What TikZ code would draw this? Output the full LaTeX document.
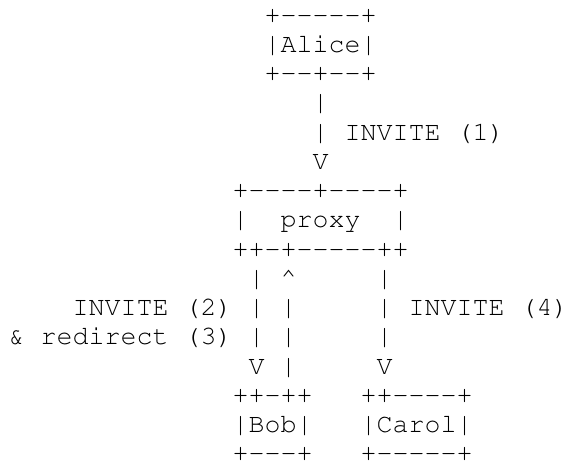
\documentclass[tikz,border=0pt]{standalone}
\usepackage[T1]{fontenc}
\usepackage{tikz}
\tikzset{ascii/.style={anchor=base west,inner sep=0pt,
    font=\fontfamily{pcr}\fontsize{26.67pt}{29.25pt}\selectfont}}
% a dash that no ligature swallows
\newcommand{\dsh}{-{}}
\begin{document}
\begin{tikzpicture}[x=16pt,y=-29.25pt,every node/.style={ascii}]
  \useasboundingbox (-8.5pt,23pt) rectangle (558.5pt,-441pt);
  {
    % Alice
    \node (alicetop) at (16,0) {+\dsh\dsh\dsh\dsh\dsh+};%
    \node (alice) at (16,1) {|Alice|};%
    \node (alicebot) at (16,2) {+\dsh\dsh+\dsh\dsh+};%
    % INVITE (1)
    \node (a1) at (19,3) {|};%
    \node (a2) at (19,4) {|};%
    \node (inv1) at (21,4) {INVITE (1)};%
    \node (a3) at (19,5) {V};%
  }
  {
    % proxy
    \node (proxytop) at (14,6) {+\dsh\dsh\dsh\dsh+\dsh\dsh\dsh\dsh+};%
    \node (pl) at (14,7) {|};%
    \node (proxy) at (17,7) {proxy};%
    \node (pr) at (24,7) {|};%
    \node (proxybot) at (14,8) {++\dsh+\dsh\dsh\dsh\dsh\dsh++};%
  }
  {
    % INVITE (2) & redirect (3), INVITE (4)
    \node (b1) at (15,9) {|};%
    \node (r1) at (17,9) {\textasciicircum};%
    \node (c1) at (23,9) {|};%
    \node (inv2) at (4,10) {INVITE (2)};%
    \node (b2) at (15,10) {|};%
    \node (r2) at (17,10) {|};%
    \node (c2) at (23,10) {|};%
    \node (inv4) at (25,10) {INVITE (4)};%
    \node (redir) at (0,11) {\& redirect (3)};%
    \node (b3) at (15,11) {|};%
    \node (r3) at (17,11) {|};%
    \node (c3) at (23,11) {|};%
    \node (b4) at (15,12) {V};%
    \node (r4) at (17,12) {|};%
    \node (c4) at (23,12) {V};%
  }
  {
    % Bob, Carol
    \node (bobtop) at (14,13) {++\dsh++};%
    \node (bob) at (14,14) {|Bob|};%
    \node (bobbot) at (14,15) {+\dsh\dsh\dsh+};%
    \node (caroltop) at (22,13) {++\dsh\dsh\dsh\dsh+};%
    \node (carol) at (22,14) {|Carol|};%
    \node (carolbot) at (22,15) {+\dsh\dsh\dsh\dsh\dsh+};%
  }
\end{tikzpicture}
\end{document}
